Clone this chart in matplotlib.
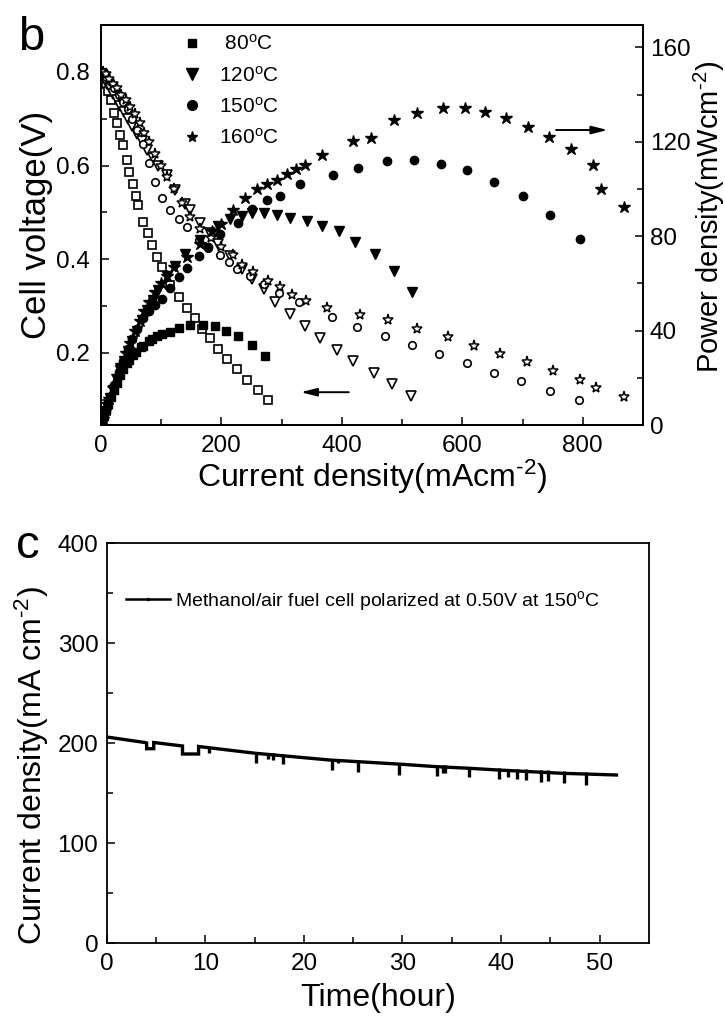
import matplotlib
matplotlib.use("Agg")
import matplotlib.pyplot as plt
from matplotlib.lines import Line2D

plt.rcParams['font.family'] = ['Liberation Sans', 'DejaVu Sans']
plt.rcParams['mathtext.fontset'] = 'custom'
plt.rcParams['mathtext.rm'] = 'Liberation Sans'
plt.rcParams['mathtext.it'] = 'Liberation Sans'

# ---- panel b: polarization (open) and power density (filled) curves ----
x80_v = [2, 5, 8, 12, 16, 21, 26, 32, 37, 43, 47, 53, 58, 62, 70, 78, 85, 93, 101, 115, 129, 142, 156, 167, 181, 195, 209, 226, 242, 260, 278]
v80 = [0.79, 0.785, 0.775, 0.76, 0.74, 0.712, 0.691, 0.666, 0.643, 0.612, 0.587, 0.56, 0.535, 0.515, 0.48, 0.455, 0.43, 0.405, 0.383, 0.344, 0.319, 0.296, 0.275, 0.252, 0.231, 0.208, 0.186, 0.165, 0.143, 0.121, 0.100]
x80_p = [2, 5, 8, 12, 16, 21, 26, 32, 37, 43, 47, 53, 58, 66, 70, 79, 85, 93, 101, 115, 129, 148, 170, 189, 207, 228, 250, 273]
p80 = [1.6, 3.9, 6.2, 9.1, 11.8, 15, 18, 21.3, 23.8, 26.3, 27.6, 29.7, 31, 33, 33.6, 35.5, 36.5, 37.7, 38.7, 39.6, 41.2, 42.5, 42.5, 41.8, 40, 37.8, 34, 29.3]

x120_v = [2, 6, 10, 15, 20, 26, 32, 38, 45, 52, 60, 68, 77, 86, 95, 109, 123, 140, 148, 165, 181, 195, 214, 234, 250, 270, 289, 314, 339, 364, 392, 418, 453, 483, 514]
v120 = [0.795, 0.785, 0.775, 0.765, 0.752, 0.74, 0.727, 0.714, 0.70, 0.685, 0.668, 0.652, 0.634, 0.617, 0.60, 0.579, 0.547, 0.518, 0.505, 0.478, 0.455, 0.432, 0.406, 0.378, 0.357, 0.337, 0.309, 0.284, 0.258, 0.232, 0.206, 0.183, 0.158, 0.133, 0.108]
x120_p = [2, 6, 10, 15, 20, 26, 32, 38, 45, 52, 60, 68, 77, 86, 95, 109, 123, 140, 165, 195, 214, 234, 250, 270, 292, 314, 342, 367, 395, 422, 455, 486, 516]
p120 = [1.6, 4.7, 7.8, 11.5, 15, 19.2, 23.3, 27.1, 31.5, 35.6, 40, 44.3, 48.8, 53, 57, 63, 67.3, 72.3, 78.6, 84.3, 87.1, 88.5, 89.7, 89.7, 89, 87.8, 86.4, 84.3, 82.2, 77.5, 72.3, 65.2, 56.4]

x150_v = [3, 8, 15, 22, 30, 37, 45, 52, 60, 70, 80, 90, 101, 115, 129, 142, 162, 178, 198, 212, 226, 248, 270, 295, 328, 384, 425, 472, 517, 561, 607, 652, 698, 745, 794]
v150 = [0.80, 0.79, 0.78, 0.765, 0.75, 0.735, 0.72, 0.70, 0.675, 0.645, 0.605, 0.565, 0.53, 0.505, 0.486, 0.468, 0.442, 0.424, 0.408, 0.393, 0.379, 0.365, 0.348, 0.328, 0.309, 0.277, 0.256, 0.236, 0.216, 0.197, 0.178, 0.158, 0.139, 0.119, 0.100]
x150_p = [3, 8, 15, 22, 30, 37, 45, 52, 60, 70, 80, 90, 101, 115, 129, 142, 162, 178, 198, 228, 250, 275, 298, 331, 385, 426, 475, 519, 564, 608, 653, 700, 746, 795]
p150 = [2.4, 6.3, 11.7, 16.8, 22.5, 27.2, 32.4, 36.4, 40.5, 45.2, 48.4, 51, 53.5, 58, 62.7, 66.6, 71.5, 75.5, 80.75, 85.7, 91.7, 95.3, 97, 102, 105.8, 108.7, 111.9, 112.2, 110.8, 108, 103, 97, 88.8, 78.9]

x160_v = [3, 8, 14, 20, 27, 34, 41, 48, 56, 64, 72, 80, 90, 100, 110, 122, 135, 148, 165, 182, 200, 220, 234, 253, 278, 298, 317, 340, 375, 430, 476, 524, 576, 619, 663, 707, 751, 796, 822, 868]
v160 = [0.80, 0.795, 0.785, 0.775, 0.765, 0.75, 0.74, 0.725, 0.71, 0.69, 0.67, 0.65, 0.625, 0.60, 0.575, 0.55, 0.52, 0.49, 0.465, 0.445, 0.425, 0.408, 0.388, 0.372, 0.3545, 0.34, 0.324, 0.31, 0.295, 0.280, 0.2695, 0.252, 0.234, 0.215, 0.197, 0.18, 0.161, 0.142, 0.124, 0.105]
x160_p = [3, 8, 14, 20, 27, 34, 41, 48, 56, 64, 72, 80, 90, 100, 110, 122, 142, 165, 185, 200, 220, 239, 259, 276, 292, 309, 323, 339, 367, 418, 448, 487, 525, 568, 604, 637, 673, 709, 744, 780, 817, 830, 868]
p160 = [2.4, 6.4, 11, 15.5, 20.7, 25.5, 30.3, 34.8, 39.8, 44.2, 48.2, 52, 56.3, 60, 63.3, 67.1, 71, 76.7, 82.3, 85, 91.1, 96.3, 99.9, 102, 104, 106.2, 108.4, 110.2, 114.3, 120.4, 121.5, 129.2, 132, 134.2, 134.2, 132.5, 129.9, 126.4, 122.1, 116.9, 110, 100.2, 92.4]

temp_labels = ['80', '120', '150', '160']

# ---- panel c: long-term polarization at 0.50 V ----
t_hours = [0, 3.87, 4.05, 4.05, 4.77, 4.77, 7.69, 7.69, 9.32, 9.32, 15.1, 22.6, 29.5, 33.5, 36.8, 39.7, 46.2, 51.7]
j_current = [206, 200.5, 200, 194.3, 194.3, 200.5, 197, 189, 189, 196.5, 189.7, 183, 179, 176.3, 174.7, 173, 169.7, 168]
spike_t = [10.4, 15.1, 16.4, 16.9, 17.9, 22.8, 23.5, 25.5, 29.6, 33.5, 34.1, 34.3, 36.7, 39.8, 40.7, 41.6, 42.5, 44.0, 44.8, 46.4, 48.6]
spike_low = [190, 180.3, 183.7, 183, 179, 173, 179.7, 171.3, 168, 167, 169.7, 169.7, 166.3, 163.7, 165.7, 163.7, 163, 161.3, 162.3, 159.7, 158]
spike_high = [196, 191, 190, 190, 189.5, 184.5, 184, 182.5, 180.5, 178, 178, 178, 176.5, 175, 174.5, 174, 174, 173, 173, 172, 171.5]

W, H = 725, 1021
fig = plt.figure(figsize=(W / 100, H / 100), dpi=100)

TICK = 17.5
LABEL = 23
SUP = r'$^{\text{-2}}$'
DEG = r'$^{\mathregular{o}}$'

ax = fig.add_axes([101 / W, 1 - 425 / H, (643 - 101) / W, 400 / H])
ax2 = ax.twinx()

ms = 6.0
mew = 1.2
ax.plot(x80_v, v80, ls='none', marker='s', ms=ms - 0.6, mfc='white', mec='black', mew=mew, zorder=3)
ax.plot(x120_v, v120, ls='none', marker='v', ms=ms + 0.5, mfc='white', mec='black', mew=mew, zorder=3)
ax.plot(x150_v, v150, ls='none', marker='o', ms=ms - 0.6, mfc='white', mec='black', mew=mew, zorder=3)
ax.plot(x160_v, v160, ls='none', marker='*', ms=ms + 2.0, mfc='white', mec='black', mew=mew * 0.9, zorder=3)

ax2.plot(x80_p, p80, ls='none', marker='s', ms=ms - 0.3, color='black', zorder=3)
ax2.plot(x120_p, p120, ls='none', marker='v', ms=ms + 1.0, color='black', zorder=3)
ax2.plot(x150_p, p150, ls='none', marker='o', ms=ms, color='black', zorder=3)
ax2.plot(x160_p, p160, ls='none', marker='*', ms=ms + 3.0, color='black', zorder=3)

ax.set_xlim(0, 900)
ax.set_ylim(0.046, 0.90)
ax2.set_ylim(0, 169.5)
ax.set_xticks([0, 200, 400, 600, 800])
ax.set_xticks([100, 300, 500, 700], minor=True)
ax.set_yticks([0.2, 0.4, 0.6, 0.8])
ax.set_yticks([0.1, 0.3, 0.5, 0.7], minor=True)
ax2.set_yticks([0, 40, 80, 120, 160])
ax2.set_yticks([20, 60, 100, 140], minor=True)

for a in (ax, ax2):
    a.tick_params(which='major', direction='in', length=6, width=1.1, labelsize=TICK)
    a.tick_params(which='minor', direction='in', length=4, width=1.1)
    for s in a.spines.values():
        s.set_linewidth(1.3)
ax.tick_params(axis='x', pad=7)
ax.tick_params(axis='y', pad=8)
ax2.tick_params(axis='y', pad=5)

ax.set_xlabel('Current density(mAcm' + SUP + ')', fontsize=LABEL, labelpad=1)
ax.set_ylabel('Cell voltage(V)', fontsize=25, labelpad=2)
ax2.set_ylabel('Power density(mWcm' + SUP + ')', fontsize=21)
ax2.yaxis.set_label_coords(1.09, 0.52)

handles = [
    Line2D([], [], ls='none', marker='s', ms=6, color='black'),
    Line2D([], [], ls='none', marker='v', ms=8, color='black'),
    Line2D([], [], ls='none', marker='o', ms=7, color='black'),
    Line2D([], [], ls='none', marker='*', ms=8, color='black'),
]
labels = [(' ' if t == '80' else '') + t + DEG + 'C' for t in temp_labels]
ax.legend(handles, labels, loc='upper left', bbox_to_anchor=(0.129, 0.978), frameon=False,
          fontsize=15, handletextpad=0.3, labelspacing=0.55, borderaxespad=0, borderpad=0)

ax.annotate('', xy=(327, 0.116), xytext=(416, 0.116),
            arrowprops=dict(arrowstyle='-|>,head_length=0.8,head_width=0.2', lw=1.4,
                            color='black', mutation_scale=12))
ax2.annotate('', xy=(846, 125), xytext=(751, 125),
             arrowprops=dict(arrowstyle='-|>,head_length=0.8,head_width=0.2', lw=1.4,
                             color='black', mutation_scale=12))

fig.text(18 / W, 1 - 50 / H, 'b', fontsize=34)

# ---- panel c ----
bx = fig.add_axes([106.7 / W, 1 - 943 / H, (649 - 106.7) / W, 400 / H])
bx.plot(t_hours, j_current, color='black', lw=2.4, solid_joinstyle='miter')
bx.vlines(spike_t, spike_low, spike_high, color='black', lw=2.4)
bx.set_xlim(0, 55)
bx.set_ylim(0, 400)
bx.set_xticks([0, 10, 20, 30, 40, 50])
bx.set_xticks([5, 15, 25, 35, 45], minor=True)
bx.set_yticks([0, 100, 200, 300, 400])
bx.set_yticks([50, 150, 250, 350], minor=True)
bx.tick_params(which='major', direction='in', length=6, width=1.1, labelsize=TICK, pad=7)
bx.tick_params(which='minor', direction='in', length=4, width=1.1)
bx.tick_params(axis='y', pad=6)
for s in bx.spines.values():
    s.set_linewidth(1.3)
bx.set_xlabel('Time(hour)', fontsize=LABEL, labelpad=6)
bx.set_ylabel('Current density(mA cm' + SUP + ')', fontsize=LABEL)
bx.yaxis.set_label_coords(-0.103, 0.445)

leg_handle = Line2D([], [], color='black', lw=1.8, marker='.', ms=3)
bx.legend([leg_handle], ['Methanol/air fuel cell polarized at 0.50V at 150' + DEG + 'C'],
          loc='upper left', bbox_to_anchor=(0.035, 0.885), frameon=False, fontsize=14,
          handlelength=2.3, handletextpad=0.25, borderaxespad=0, borderpad=0)

fig.text(16 / W, 1 - 558 / H, 'c', fontsize=34)

fig.savefig('out.png', dpi=100)
